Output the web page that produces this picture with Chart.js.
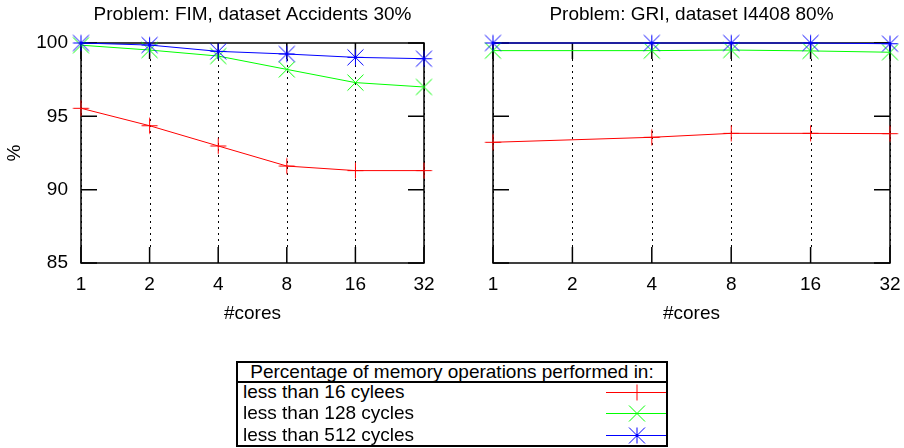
<!DOCTYPE html>
<html>
<head>
<meta charset="utf-8">
<script src="https://cdn.jsdelivr.net/npm/chart.js@4.4.1/dist/chart.umd.min.js"></script>
<style>
  body { margin: 0; background: #fff; width: 904px; height: 448px; position: relative; overflow: hidden;
         font-family: "Liberation Sans", Arial, sans-serif; color: #000; }
  #fim { position: absolute; left: 0; top: 0; }
  #gri { position: absolute; left: 479px; top: 0; }
  #legend { position: absolute; left: 236px; top: 361px; width: 432px; height: 86px;
            border: 2px solid #000; box-sizing: border-box; font-size: 19px; }
  #legend .head { position: absolute; left: 0; top: 0; width: 100%; height: 18px; line-height: 18px;
                  text-align: center; border-bottom: 2px solid #000; }
  #legend .row { position: absolute; left: 0; width: 100%; height: 22px; line-height: 22px; }
  #legend .row span { position: absolute; left: 5px; top: 0; white-space: nowrap; }
  #legend .row canvas { position: absolute; left: 368px; top: 0; }
</style>
</head>
<body>
<canvas id="fim" width="505" height="330"></canvas>
<canvas id="gri" width="425" height="330"></canvas>
<div id="legend">
  <div class="head">Percentage of memory operations performed in:</div>
  <div class="row" style="top:18px"><span>less than 16 cylees</span><canvas id="s0" width="60" height="22"></canvas></div>
  <div class="row" style="top:39px"><span>less than 128 cycles</span><canvas id="s1" width="60" height="22"></canvas></div>
  <div class="row" style="top:61px"><span>less than 512 cycles</span><canvas id="s2" width="60" height="22"></canvas></div>
</div>
<script>
const cores = ['1', '2', '4', '8', '16', '32'];
const yTicks = [85, 90, 95, 100];
const seriesNames = ['less than 16 cycles', 'less than 128 cycles', 'less than 512 cycles'];
const colors = ['#ff0000', '#00ff00', '#0000ff'];

// FIM, dataset Accidents 30%
const fimLt16 = [95.55, 94.36, 92.98, 91.61, 91.3, 91.3];
const fimLt128 = [99.85, 99.52, 99.11, 98.2, 97.3, 97.0];
const fimLt512 = [100.0, 99.86, 99.43, 99.25, 99.02, 98.93];

// GRI, dataset I4408 80% (no run at 2 cores)
const griLt16 = [93.23, null, 93.57, 93.84, 93.84, 93.82];
const griLt128 = [99.48, null, 99.48, 99.52, 99.46, 99.37];
const griLt512 = [100.0, null, 100.0, 100.0, 100.0, 99.95];

const FONT = { family: '"Liberation Sans", Arial, sans-serif', size: 19, weight: 'normal' };
const TICK = 16;

// gnuplot style point markers: + , x , *
function marker(color, plus, cross) {
    const c = document.createElement('canvas');
    c.width = 19; c.height = 19;
    const g = c.getContext('2d');
    const m = 9.5, h = 8;
    g.strokeStyle = color;
    g.lineWidth = 1;
    g.beginPath();
    if (plus) {
        g.moveTo(m - h, m); g.lineTo(m + h, m);
        g.moveTo(m, m - h); g.lineTo(m, m + h);
    }
    if (cross) {
        g.moveTo(m - h, m - h); g.lineTo(m + h, m + h);
        g.moveTo(m - h, m + h); g.lineTo(m + h, m - h);
    }
    g.stroke();
    return c;
}
const markers = [
    marker(colors[0], true, false),
    marker(colors[1], false, true),
    marker(colors[2], true, true)
];

// frame, inward ticks and dotted verticals, drawn under the data
const frame = {
    id: 'frame',
    beforeDatasetsDraw(chart) {
        const { ctx, chartArea: a, scales: { x, y } } = chart;
        ctx.save();
        ctx.strokeStyle = '#000';
        ctx.lineWidth = 1;
        ctx.setLineDash([2, 4]);
        cores.forEach((c, i) => {
            const px = Math.round(x.getPixelForValue(i)) + 0.5;
            ctx.beginPath();
            ctx.moveTo(px, a.top + TICK);
            ctx.lineTo(px, a.bottom - TICK);
            ctx.stroke();
        });
        ctx.setLineDash([]);
        ctx.lineWidth = 1.5;
        ctx.beginPath();
        cores.forEach((c, i) => {
            const px = x.getPixelForValue(i);
            ctx.moveTo(px, a.bottom); ctx.lineTo(px, a.bottom - TICK);
            ctx.moveTo(px, a.top); ctx.lineTo(px, a.top + TICK);
        });
        yTicks.forEach(v => {
            const py = y.getPixelForValue(v);
            ctx.moveTo(a.left, py); ctx.lineTo(a.left + TICK, py);
            ctx.moveTo(a.right, py); ctx.lineTo(a.right - TICK, py);
        });
        ctx.stroke();
        ctx.strokeRect(a.left, a.top, a.right - a.left, a.bottom - a.top);
        ctx.restore();
    }
};

// empty right-hand axis keeps the title centred over the plot
function makeChart(id, title, series, showY, rightW) {
    return new Chart(document.getElementById(id), {
        type: 'line',
        data: {
            labels: cores,
            datasets: series.map((d, i) => ({
                label: seriesNames[i],
                data: d,
                borderColor: colors[i],
                backgroundColor: colors[i],
                pointStyle: markers[i],
                order: 3 - i
            }))
        },
        options: {
            responsive: false,
            animation: false,
            events: [],
            layout: { padding: 0 },
            datasets: { line: { borderWidth: 1, tension: 0, clip: false, spanGaps: true, pointRadius: 9 } },
            plugins: {
                legend: { display: false },
                tooltip: { enabled: false },
                title: { display: true, text: title, color: '#000', font: FONT, padding: { top: 3, bottom: 17.2 } }
            },
            scales: {
                x: {
                    grid: { display: false },
                    border: { display: false },
                    ticks: { color: '#000', font: FONT, padding: 2, autoSkip: false, maxRotation: 0 },
                    title: { display: true, text: '#cores', color: '#000', font: FONT, padding: { top: 0, bottom: 4.6 } },
                    afterFit: s => { s.height = 67; }
                },
                y: {
                    min: 85,
                    max: 100,
                    grid: { display: false },
                    border: { display: false },
                    ticks: { display: showY, stepSize: 5, color: '#000', font: FONT, padding: 5 },
                    title: { display: showY, text: '%', color: '#000', font: FONT, padding: { top: 3.6, bottom: 0 } },
                    afterFit: s => { s.width = showY ? 81 : 14; }
                },
                yRight: {
                    position: 'right',
                    grid: { display: false },
                    border: { display: false },
                    ticks: { display: false },
                    afterFit: s => { s.width = rightW; }
                }
            }
        },
        plugins: [frame]
    });
}

makeChart('fim', 'Problem: FIM, dataset Accidents 30%', [fimLt16, fimLt128, fimLt512], true, 81);
makeChart('gri', 'Problem: GRI, dataset I4408 80%', [griLt16, griLt128, griLt512], false, 14);

// legend samples
markers.forEach((m, i) => {
    const g = document.getElementById('s' + i).getContext('2d');
    g.strokeStyle = colors[i];
    g.lineWidth = 1;
    g.beginPath();
    g.moveTo(0, 11.5);
    g.lineTo(60, 11.5);
    g.stroke();
    g.drawImage(m, 31 - 9.5, 11.5 - 9.5);
});
</script>
</body>
</html>
